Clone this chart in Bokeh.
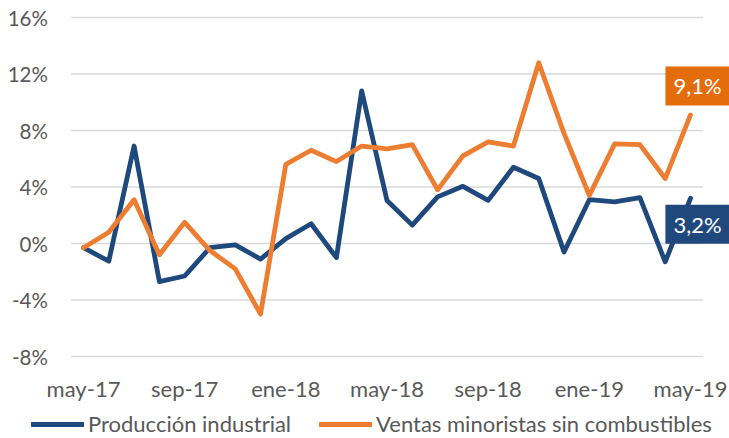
from bokeh.plotting import figure
from bokeh.models import ColumnDataSource, Legend, LegendItem, Label
from bokeh.core.properties import value
from bokeh.embed import file_html
from bokeh.resources import INLINE

months = ["may-17", "jun-17", "jul-17", "ago-17", "sep-17", "oct-17", "nov-17",
          "dic-17", "ene-18", "feb-18", "mar-18", "abr-18", "may-18", "jun-18",
          "jul-18", "ago-18", "sep-18", "oct-18", "nov-18", "dic-18", "ene-19",
          "feb-19", "mar-19", "abr-19", "may-19"]
produccion = [-0.3, -1.25, 6.9, -2.7, -2.3, -0.3, -0.1, -1.1, 0.35, 1.4, -1.0,
              10.8, 3.05, 1.3, 3.3, 4.05, 3.05, 5.4, 4.6, -0.6, 3.1, 2.95, 3.25,
              -1.3, 3.2]
ventas = [-0.3, 0.8, 3.1, -0.8, 1.5, -0.5, -1.8, -5.0, 5.6, 6.6, 5.8, 6.9, 6.7,
          7.0, 3.8, 6.2, 7.2, 6.9, 12.8, 7.8, 3.4, 7.05, 7.0, 4.6, 9.1]
y_ticks = [-8, -4, 0, 4, 8, 12, 16]
y_tick_labels = ["-8%", "-4%", "0%", "4%", "8%", "12%", "16%"]
x_tick_idx = [0, 4, 8, 12, 16, 20, 24]
series_names = ["Producción industrial", "Ventas minoristas sin combustibles"]
last_labels = ["3,2%", "9,1%"]

BLUE = "#1F497D"
ORANGE = "#ED7D31"
ORANGE_BOX = "#E46C0A"
GRAY = "#595959"
GRID = "#D9D9D9"
FONT = "Lato"

n = len(months)
idx = list(range(n))

# canvas geometry (pixels) used to set the ranges of the full-canvas frame
W, H = 729, 438
X_FIRST, X_LAST = 83, 690      # pixel of first / last month
Y_TOP, Y_BOT = 17, 356         # pixel of top / bottom tick
xpx = (X_LAST - X_FIRST) / (n - 1)
ypx = (Y_BOT - Y_TOP) / (y_ticks[-1] - y_ticks[0])
x_range = (-X_FIRST / xpx, (n - 1) + (W - X_LAST) / xpx)
y_range = (y_ticks[0] - (H - Y_BOT) / ypx, y_ticks[-1] + Y_TOP / ypx)

p = figure(width=W, height=H, output_backend="svg", toolbar_location=None,
           x_range=x_range, y_range=y_range, min_border=0,
           x_axis_location=None, y_axis_location=None)
p.outline_line_color = None
p.grid.visible = False

src = ColumnDataSource(dict(x=idx, prod=produccion, vent=ventas))

# horizontal gridlines across the category band
p.segment(x0=[-0.5] * len(y_ticks), x1=[n - 0.5] * len(y_ticks),
          y0=y_ticks, y1=y_ticks, line_color=GRID, line_width=1.6)

# tick labels
p.text(x=[-0.5] * len(y_ticks), y=y_ticks, text=y_tick_labels, x_offset=-23,
       text_align="right", text_baseline="middle", text_font=value(FONT),
       text_font_size="20.5px", text_color=GRAY)
p.text(x=x_tick_idx, y=[y_ticks[0]] * len(x_tick_idx),
       text=[months[i] for i in x_tick_idx], y_offset=32,
       text_align="center", text_baseline="middle", text_font=value(FONT),
       text_font_size="22px", text_color=GRAY)

r1 = p.line("x", "prod", source=src, line_color=BLUE, line_width=4.8,
            line_join="round", line_cap="round")
r2 = p.line("x", "vent", source=src, line_color=ORANGE, line_width=4.8,
            line_join="round", line_cap="round")

# value labels on the last point
for val, txt, col, yoff in [(ventas[-1], last_labels[1], ORANGE_BOX, 29),
                            (produccion[-1], last_labels[0], BLUE, -26)]:
    p.add_layout(Label(x=idx[-1], y=val, x_offset=7, y_offset=yoff, text=txt,
                       text_color="white", text_font=FONT, text_font_size="22px",
                       text_align="center", text_baseline="middle",
                       background_fill_color=col,
                       padding=dict(left=8, right=8, top=6, bottom=6)))

legend = Legend(items=[LegendItem(label=series_names[0], renderers=[r1]),
                       LegendItem(label=series_names[1], renderers=[r2])],
                location=(31, 1), orientation="horizontal",
                padding=0, margin=0, spacing=28,
                glyph_width=53, glyph_height=20, label_standoff=4, label_height=20,
                label_text_font=FONT, label_text_font_size="22px",
                label_text_color=GRAY, border_line_color=None,
                background_fill_alpha=0)
p.add_layout(legend, "center")

open("out.html", "w").write(file_html(p, INLINE))
